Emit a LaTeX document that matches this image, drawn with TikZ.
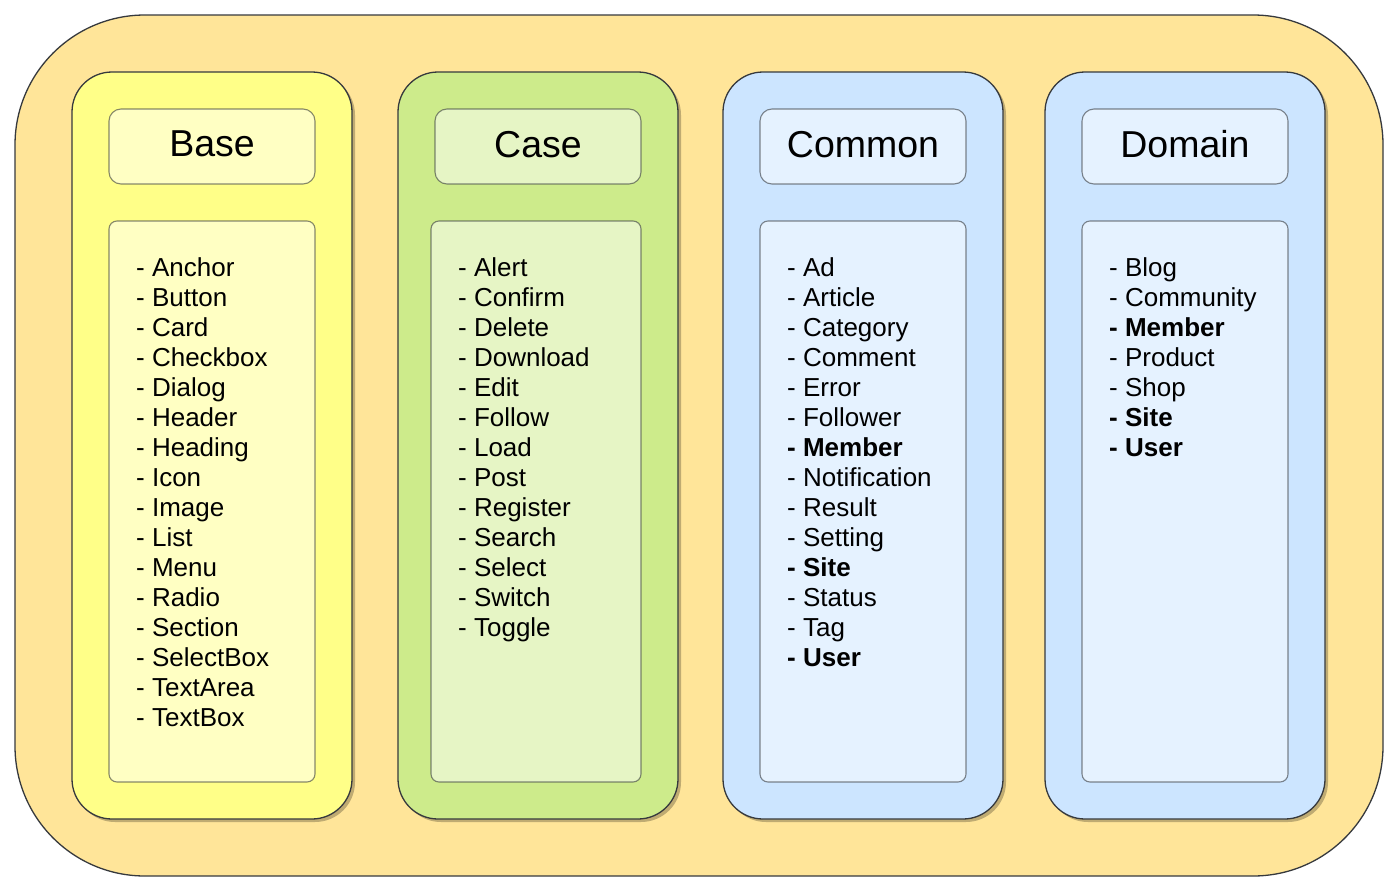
\documentclass[tikz,border=0pt]{standalone}
\usepackage{fontspec}
\setmainfont{Liberation Sans}
\usetikzlibrary{shadows}
\definecolor{strokec}{HTML}{36393D}
\definecolor{outerc}{HTML}{FFE599}
\definecolor{basec}{HTML}{FFFF88}
\definecolor{casec}{HTML}{CDEB8B}
\definecolor{commonc}{HTML}{CCE5FF}
\begin{document}
\begin{tikzpicture}[x=1pt,y=-1pt,
  outerbox/.style={draw=strokec, line width=1.3pt, fill=outerc, rounded corners=130pt, inner sep=0pt},
  column/.style={draw=strokec, line width=1.3pt, rounded corners=40pt,
     minimum width=280pt, minimum height=747pt, inner sep=0pt,
     drop shadow={shadow xshift=3pt, shadow yshift=-3pt, opacity=0.25, fill=black}},
  innerbox/.style={fill=white, fill opacity=0.5, draw=strokec, draw opacity=0.6, text opacity=1, line width=1.1pt, inner sep=0pt},
  titlebox/.style={innerbox, rounded corners=12pt, minimum width=206pt, minimum height=75pt,
     font=\fontsize{37.5}{40}\selectfont, text depth=5pt},
  listbox/.style={innerbox, rounded corners=8pt, minimum height=561pt},
  item/.style={font=\fontsize{26}{30}\selectfont, anchor=base west, inner sep=0pt},
]
\useasboundingbox (0,0) rectangle (1400,894);
\node[outerbox, minimum width=1368pt, minimum height=861pt] (outer) at (699,445.5) {};

% columns
\node[column, fill=basec]   (colbase)   at (212,445.5) {};
\node[column, fill=casec]   (colcase)   at (538,445.5) {};
\node[column, fill=commonc] (colcommon) at (863,445.5) {};
\node[column, fill=commonc] (coldomain) at (1185,445.5) {};

% titles
\node[titlebox] (tbase)   at (212,146.5)  {Base};
\node[titlebox] (tcase)   at (538,146.5)  {Case};
\node[titlebox] (tcommon) at (863,146.5)  {Common};
\node[titlebox] (tdomain) at (1185,146.5) {Domain};

% list boxes
\node[listbox, minimum width=206pt] (lbase)   at (212,501.5)  {};
\node[listbox, minimum width=210pt] (lcase)   at (536,501.5)  {};
\node[listbox, minimum width=206pt] (lcommon) at (863,501.5)  {};
\node[listbox, minimum width=206pt] (ldomain) at (1185,501.5) {};

% items
\foreach \t [count=\i] in {- Anchor, - Button, - Card, - Checkbox, - Dialog, - Header, - Heading, - Icon, - Image, - List, - Menu, - Radio, - Section, - SelectBox, - TextArea, - TextBox}
  \node[item] (ib\i) at (136,{246+30*\i}) {\t};
\foreach \t [count=\i] in {- Alert, - Confirm, - Delete, - Download, - Edit, - Follow, - Load, - Post, - Register, - Search, - Select, - Switch, - Toggle}
  \node[item] (ic\i) at (458,{246+30*\i}) {\t};
\foreach \t [count=\i] in {- Ad, - Article, - Category, - Comment, - Error, - Follower, \textbf{- Member}, - Notification, - Result, - Setting, \textbf{- Site}, - Status, - Tag, \textbf{- User}}
  \node[item] (im\i) at (787,{246+30*\i}) {\t};
\foreach \t [count=\i] in {- Blog, - Community, \textbf{- Member}, - Product, - Shop, \textbf{- Site}, \textbf{- User}}
  \node[item] (id\i) at (1109,{246+30*\i}) {\t};
\end{tikzpicture}
\end{document}
